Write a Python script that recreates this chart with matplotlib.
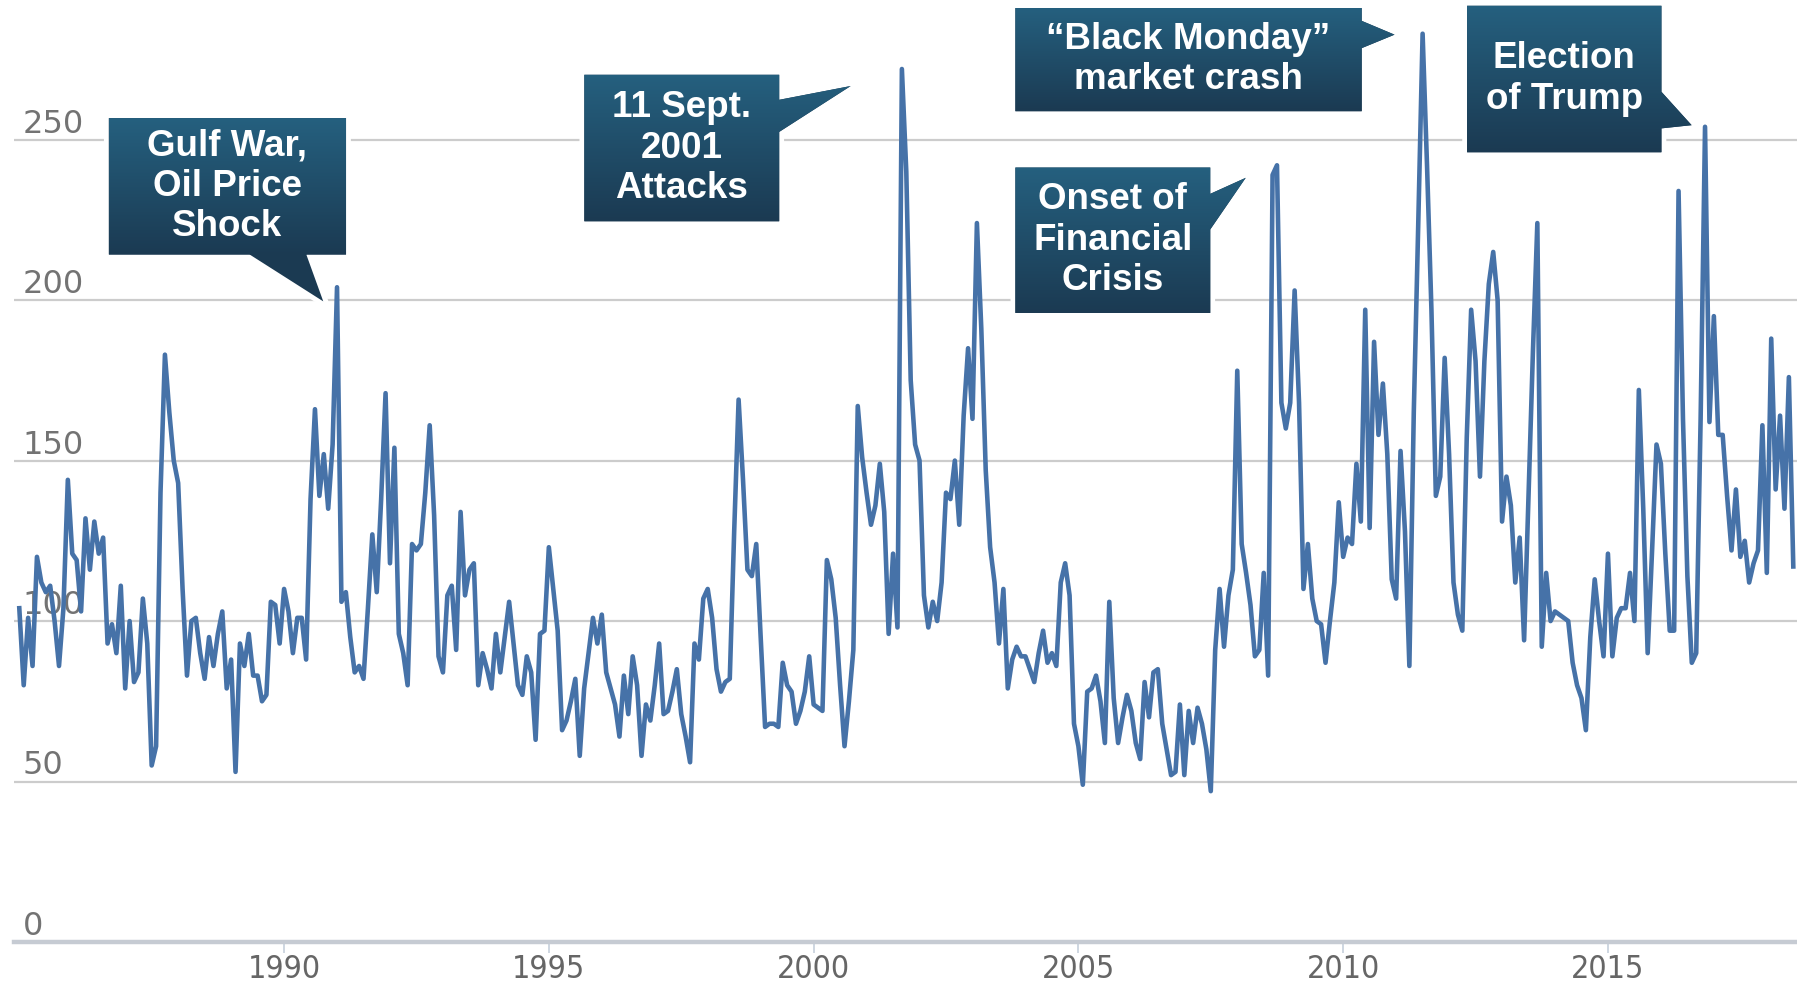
import matplotlib
matplotlib.use("Agg")
import matplotlib.pyplot as plt
import matplotlib.transforms as mtransforms
from matplotlib.patches import Polygon
from matplotlib.colors import LinearSegmentedColormap
import numpy as np

# Monthly index values, Jan 1985 onwards
epu_1985_1989 = [
    104, 80, 101, 86, 120, 112, 109, 111, 100, 86, 104, 144,
    121, 119, 103, 132, 116, 131, 121, 126, 93, 99, 90, 111,
    79, 100, 81, 84, 107, 93, 55, 61, 140, 183, 165, 150,
    143, 110, 83, 100, 101, 90, 82, 95, 86, 96, 103, 79,
    88, 53, 93, 86, 96, 83, 83, 75, 77, 106, 105, 93,
]
epu_1990_1994 = [
    110, 103, 90, 101, 101, 88, 138, 166, 139, 152, 135, 155,
    204, 106, 109, 95, 84, 86, 82, 104, 127, 109, 138, 171,
    118, 154, 96, 90, 80, 124, 122, 124, 140, 161, 133, 89,
    84, 108, 111, 91, 134, 108, 116, 118, 80, 90, 85, 79,
    96, 84, 95, 106, 93, 80, 77, 89, 84, 63, 96, 97,
]
epu_1995_1999 = [
    123, 110, 97, 66, 69, 75, 82, 58, 79, 90, 101, 93,
    102, 84, 79, 74, 64, 83, 71, 89, 80, 58, 74, 69,
    80, 93, 71, 72, 78, 85, 71, 64, 56, 93, 88, 107,
    110, 101, 85, 78, 81, 82, 128, 169, 144, 116, 114, 124,
    95, 67, 68, 68, 67, 87, 80, 78, 68, 72, 78, 89,
]
epu_2000_2004 = [
    74, 73, 72, 119, 113, 101, 80, 61, 75, 91, 167, 151,
    140, 130, 136, 149, 134, 96, 121, 98, 272, 240, 175, 155,
    150, 108, 98, 106, 100, 112, 140, 138, 150, 130, 164, 185,
    163, 224, 191, 147, 123, 112, 93, 110, 79, 88, 92, 89,
    89, 85, 81, 90, 97, 87, 90, 86, 112, 118, 108, 68,
]
epu_2005_2009 = [
    61, 49, 78, 79, 83, 75, 62, 106, 76, 62, 70, 77,
    72, 62, 57, 81, 70, 84, 85, 68, 60, 52, 53, 74,
    52, 72, 62, 73, 68, 60, 47, 91, 110, 92, 108, 116,
    178, 124, 115, 105, 89, 91, 115, 83, 239, 242, 168, 160,
    168, 203, 168, 110, 124, 107, 100, 99, 87, 100, 112, 137,
]
epu_2010_2014 = [
    120, 126, 124, 149, 131, 197, 129, 187, 158, 174, 152, 113,
    107, 153, 128, 86, 165, 223, 283, 242, 197, 139, 145, 182,
    152, 112, 102, 97, 157, 197, 181, 145, 181, 205, 215, 200,
    131, 145, 136, 112, 126, 94, 139, 184, 224, 92, 115, 100,
    103, 102, 101, 100, 87, 80, 76, 66, 95, 113, 100, 89,
]
epu_2015_2018 = [
    121, 89, 101, 104, 104, 115, 100, 172, 135, 90, 122, 155,
    149, 121, 97, 97, 234, 163, 114, 87, 90, 163, 254, 162,
    195, 158, 158, 139, 122, 141, 120, 125, 112, 118, 122, 161,
    115, 188, 141, 164, 135, 176, 117,
]

year_ticks = [1990, 1995, 2000, 2005, 2010, 2015]
value_ticks = [0, 50, 100, 150, 200, 250]

# callouts: text, box (x0, x1, y0, y1), side of the pointer, pointer base, tip
callouts = [
    ("Gulf War,\nOil Price\nShock", (1986.69, 1991.17, 214.2, 256.7), "bottom", (1989.35, 1990.42), (1990.74, 199.6)),
    ("11 Sept.\n2001\nAttacks", (1995.67, 1999.35, 224.5, 270.2), "right", (262.4, 252.4), (2000.70, 266.7)),
    ("\u201cBlack Monday\u201d\nmarket crash", (2003.81, 2010.35, 258.8, 291.0), "right", (287.0, 278.5), (2010.97, 282.7)),
    ("Onset of\nFinancial\nCrisis", (2003.81, 2007.49, 196.0, 241.3), "right", (233.1, 222.0), (2008.16, 238.1)),
    ("Election\nof Trump", (2012.34, 2016.01, 246.0, 291.7), "right", (264.9, 253.5), (2016.58, 254.5)),
]

values = np.array(epu_1985_1989 + epu_1990_1994 + epu_1995_1999 + epu_2000_2004
                  + epu_2005_2009 + epu_2010_2014 + epu_2015_2018, dtype=float)
years = 1985 + np.arange(len(values)) / 12.0

LINE_COLOR = "#4672a8"
BOX_TOP = "#25607f"
BOX_BOTTOM = "#1b3a52"
box_cmap = LinearSegmentedColormap.from_list("box", [BOX_BOTTOM, BOX_TOP])

fig = plt.figure(figsize=(17.97, 9.86), dpi=100)
ax = fig.add_axes([14 / 1797, 44 / 986, 1 - 14 / 1797, 1 - 44 / 986])

# grid + baseline
ax.set_yticks(value_ticks)
ax.grid(True, axis="y", color="#cccccc", linewidth=1.6, zorder=0)
ax.tick_params(axis="y", left=False, labelleft=False)
for side in ["top", "right", "left"]:
    ax.spines[side].set_visible(False)
ax.spines["bottom"].set_color("#c6cbd3")
ax.spines["bottom"].set_linewidth(3.2)

ax.plot(years, values, color=LINE_COLOR, linewidth=3.3, solid_joinstyle="round", zorder=5)

ax.set_xticks(year_ticks)
ax.set_xticklabels([str(y) for y in year_ticks], fontsize=23, color="#666666",
                   fontstretch="condensed")
ax.tick_params(axis="x", direction="out", length=8, width=1.2, color="#c6d0dc", pad=1)

# value labels sit just above their gridlines, at the left edge
trans = mtransforms.blended_transform_factory(ax.transAxes, ax.transData)
for v in value_ticks:
    ax.text(0.005, v + 2.2, str(v), transform=trans, ha="left", va="baseline",
            fontsize=23, color="#737373", zorder=2)


def draw_callout(text, box, side, base, tip):
    x0, x1, y0, y1 = box
    if side == "bottom":
        verts = [(x0, y1), (x1, y1), (x1, y0), (base[1], y0), tip, (base[0], y0), (x0, y0)]
    else:
        verts = [(x0, y1), (x1, y1), (x1, base[0]), tip, (x1, base[1]), (x1, y0), (x0, y0)]
    halo = Polygon(verts, closed=True, facecolor="white", edgecolor="white",
                   linewidth=7, joinstyle="miter", zorder=4)
    ax.add_patch(halo)
    shape = Polygon(verts, closed=True, facecolor=BOX_BOTTOM, edgecolor="none", zorder=6)
    ax.add_patch(shape)
    grad = np.linspace(0, 1, 256).reshape(-1, 1)
    img = ax.imshow(grad, cmap=box_cmap, origin="lower", aspect="auto",
                    extent=(x0, max(x1, tip[0]), y0, y1), zorder=7, interpolation="bilinear")
    img.set_clip_path(shape)
    ax.text((x0 + x1) / 2, (y0 + y1) / 2, text, ha="center", va="center",
            color="white", fontsize=26.5, fontweight="bold", family="Liberation Sans",
            linespacing=1.2, zorder=8)


for c in callouts:
    draw_callout(*c)

ax.set_xlim(1984.90, 2018.57)
ax.set_ylim(0, 293.5)

fig.savefig("out.png", dpi=100)
